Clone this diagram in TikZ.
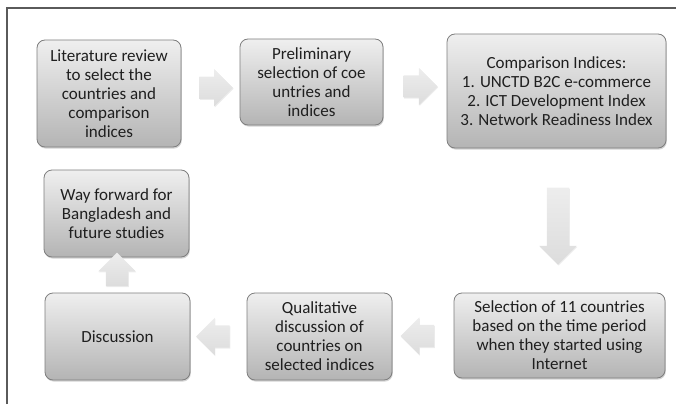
\documentclass[tikz,border=0pt]{standalone}
\usepackage{fontspec}
\setmainfont{Carlito}
\usetikzlibrary{shapes.arrows,shadows,calc}

\definecolor{boxline}{HTML}{7E7E7E}
\definecolor{boxtop}{HTML}{EFEFEF}
\definecolor{boxbot}{HTML}{B4B4B4}
\definecolor{arrtop}{HTML}{EDEDED}
\definecolor{arrbot}{HTML}{DCDCDC}
\definecolor{frameline}{HTML}{5A5A5A}

\tikzset{
	stage/.style={rectangle, rounded corners=8pt, draw=boxline, line width=0.8pt,
		top color=boxtop, bottom color=boxbot, align=center, text=black!88,
		inner sep=2pt, font=\fontsize{17}{19}\selectfont,
		drop shadow={shadow xshift=0.8pt, shadow yshift=-1.6pt, opacity=0.35}},
	flow/.style={single arrow, draw=none, top color=arrtop, bottom color=arrbot,
		inner sep=11pt, shape border rotate=#1, single arrow head extend=7.5pt,
		drop shadow={shadow xshift=0.6pt, shadow yshift=-1pt, opacity=0.15}}
}

\begin{document}
\begin{tikzpicture}[x=1pt,y=-1pt]
	%\draw[help lines] (0,0) grid[step=50] (679,404);
	\useasboundingbox (0,0) rectangle (679,404);
	\draw[frameline, line width=1.2pt] (7,404)--(7,8)--(676,8);

	\node[stage, minimum width=144, minimum height=107] (lit) at (109,93.5) {Literature review\\to select the\\countries and\\comparison\\indices};
	\node[stage, minimum width=143, minimum height=86] (pre) at (311.5,82) {Preliminary\\selection of coe\\untries and\\indices};
	\node[stage, minimum width=219, minimum height=114] (cmp) at (556.5,91) {Comparison Indices:\\1. UNCTD B2C e-commerce\\2. ICT Development Index\\3. Network Readiness Index};
	\node[stage, minimum width=211, minimum height=85] (sel) at (559.5,335.5) {Selection of 11 countries\\based on the time period\\when they started using\\Internet};
	\node[stage, minimum width=145, minimum height=87] (qual) at (319.5,336.5) {Qualitative\\discussion of\\countries on\\selected indices};
	\node[stage, minimum width=145, minimum height=87] (disc) at (117.5,336.5) {Discussion};
	\node[stage, minimum width=145, minimum height=87] (way) at (116.5,213.5) {Way forward for\\Bangladesh and\\future studies};

	\node[flow=0, minimum height=32] (a1) at ($(lit.east)!0.5!(pre.west)$) {};
	\node[flow=0, minimum height=34] (a2) at ($(pre.east)!0.5!(cmp.west)$) {};
	\node[flow=270, minimum height=77] (a3) at ($(cmp.south)!0.5!(sel.north)$) {};
	\node[flow=180, minimum height=33] (a4) at ($(sel.west)!0.5!(qual.east)$) {};
	\node[flow=180, minimum height=31] (a5) at ($(qual.west)!0.5!(disc.east)$) {};
	\node[flow=90, minimum height=22] (a6) at ($(disc.north)!0.5!(way.south)$) {};
\end{tikzpicture}
\end{document}
